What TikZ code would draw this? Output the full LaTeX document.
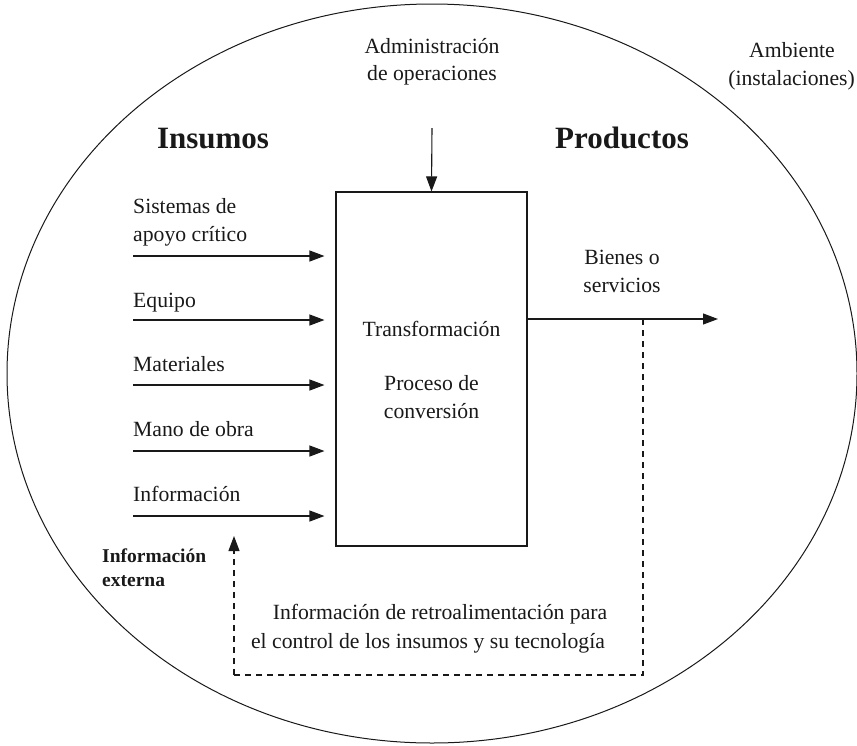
\documentclass[tikz,border=0pt]{standalone}
\usepackage{fontspec}
\setmainfont{Liberation Serif}
\usetikzlibrary{arrows.meta,calc}
\begin{document}
\begin{tikzpicture}[x=1pt,y=-1pt,
  line/.style={line width=1.1pt, black!90},
  arr/.style={line, -{Triangle[length=15pt,width=11pt]}},
  darr/.style={line, dash pattern=on 6pt off 5pt, -{Triangle[length=15pt,width=11pt]}},
  dline/.style={line, dash pattern=on 6pt off 5pt},
  txt/.style={font=\fontsize{21.7}{28}\selectfont, inner sep=0pt, text=black!90},
  head/.style={font=\fontsize{31}{36}\selectfont\bfseries, inner sep=0pt, text=black!90},
  small/.style={font=\fontsize{19.5}{23}\selectfont\bfseries, inner sep=0pt, text=black!90, align=left},
  procbox/.style={draw, line width=1.1pt, black!90, minimum width=191pt, minimum height=354pt, inner sep=0pt}
]
\useasboundingbox (0,0) rectangle (857,745);
% environment ellipse
\draw[line width=1pt, black!90] (432,373.5) ellipse [x radius=425pt, y radius=369.5pt];
% process box
\node[procbox] (proc) at (431.5,369) {};
\node[txt, anchor=base] (t1) at (431.5,336) {Transformación};
\node[txt, anchor=base] (t2) at (431.5,390) {Proceso de};
\node[txt, anchor=base] (t3) at (431.5,418) {conversión};
% top
\node[txt, anchor=base] (adm1) at (432,53) {Administración};
\node[txt, anchor=base] (adm2) at (432,80) {de operaciones};
\coordinate (admstart) at (432,128);
\draw[arr] (admstart) -- (proc.north);
\node[txt, anchor=base east] (amb2) at (855,85) {(instalaciones)};
\node[txt, anchor=base] (amb1) at (792,57) {Ambiente};
% headings
\node[head, anchor=base] (ins) at (213,148) {Insumos};
\node[head, anchor=base] (prod) at (622,148) {Productos};
% inputs
\node[txt, anchor=base west] (l1a) at (133,213) {Sistemas de};
\node[txt, anchor=base west] (l1b) at (133,241) {apoyo crítico};
\node[txt, anchor=base west] (l2) at (133,307) {Equipo};
\node[txt, anchor=base west] (l3) at (133,371) {Materiales};
\node[txt, anchor=base west] (l4) at (133,436) {Mano de obra};
\node[txt, anchor=base west] (l5) at (133,501) {Información};
\foreach \i/\y in {1/256,2/320,3/385,4/451,5/516}{
  \coordinate (s\i) at (133,\y);
  \draw[arr, shorten >=11pt] (s\i) -- (s\i -| proc.west);
}
% output
\coordinate (outstart) at (proc.east |- 0,319);
\coordinate (outend) at (718,319);
\draw[arr] (outstart) -- (outend);
\node[txt, anchor=base] (b1) at (622,264) {Bienes o};
\node[txt, anchor=base] (b2) at (622,292) {servicios};
% feedback
\coordinate (f0) at (643,319);
\coordinate (f1) at (643,675);
\coordinate (f2) at (234,675);
\coordinate (f3) at (234,536);
\draw[dline] (f0) -- (f1) -- (f2);
\draw[darr] (f2) -- (f3);
\node[txt, anchor=base] (fb1) at (440,619) {Información de retroalimentación para};
\node[txt, anchor=base] (fb2) at (428,648) {el control de los insumos y su tecnología};
% external info
\node[small, anchor=base west] (ext1) at (102,562) {Información};
\node[small, anchor=base west] (ext2) at (102,586) {externa};
\end{tikzpicture}
\end{document}
